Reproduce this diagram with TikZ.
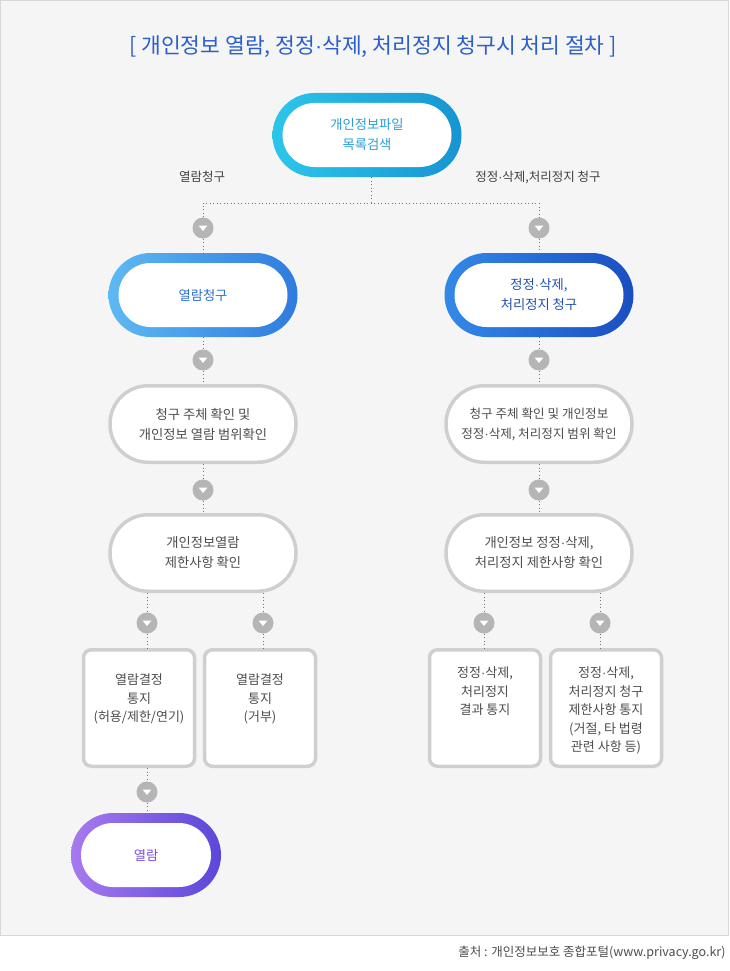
\documentclass[tikz,border=0pt]{standalone}
\usepackage{fontspec}
\setmainfont{Noto Sans CJK KR}
\newfontfamily\dotfont{Liberation Sans}
\newcommand{\md}{{\dotfont ·}}
\usepackage{xcolor}
\usetikzlibrary{positioning}

\definecolor{paper}{HTML}{F5F5F5}
\definecolor{frame}{HTML}{D8D8D8}
\definecolor{txt}{HTML}{4D4D4D}
\definecolor{mark}{HTML}{B5B5B5}
\definecolor{edge}{HTML}{CFCFCF}
\definecolor{titleblue}{HTML}{2B5FCC}
\definecolor{cyanA}{HTML}{2CC6EA}\definecolor{cyanB}{HTML}{1794D2}\definecolor{cyanT}{HTML}{2A9DD8}
\definecolor{skyA}{HTML}{5DB9F2}\definecolor{skyB}{HTML}{2F7BDF}\definecolor{skyT}{HTML}{2A6FD2}
\definecolor{navyA}{HTML}{3389E8}\definecolor{navyB}{HTML}{1A4EC2}\definecolor{navyT}{HTML}{2050AE}
\definecolor{violA}{HTML}{A77AEE}\definecolor{violB}{HTML}{5B47D8}\definecolor{violT}{HTML}{7A4FE4}

\tikzset{
	ring/.style 2 args={rectangle, rounded corners=42pt, minimum width=#1, minimum height=84pt, inner sep=0pt, align=center,
		left color=#2A, right color=#2B, text=#2T, font=\fontsize{13.3}{20}\selectfont,
		path picture={\fill[white, rounded corners=32pt] ([shift={(10pt,10pt)}]path picture bounding box.south west) rectangle ([shift={(-10pt,-10pt)}]path picture bounding box.north east);}},
	pill/.style={rectangle, draw=edge, line width=3.5pt, fill=white, rounded corners=38pt, minimum width=186pt, minimum height=76.5pt,
		align=center, text=txt, font=\fontsize{13.3}{20}\selectfont},
	card/.style={rectangle, draw=edge, line width=3.5pt, fill=white, rounded corners=8pt, minimum width=111pt, minimum height=116.5pt},
	cardtext/.style={anchor=north, align=center, text=txt, font=\fontsize{13}{18.5}\selectfont, inner sep=0pt},
	marker/.style={circle, fill=mark, minimum size=21pt, inner sep=0pt,
		path picture={\fill[white] ([shift={(-4.5pt,2.5pt)}]path picture bounding box.center) -- ++(9pt,0pt) -- ++(-4.5pt,-5.5pt) -- cycle;}},
	dots/.style={draw=black!55, line width=0.9pt, dash pattern=on 0.9pt off 2.6pt},
	side/.style={text=black!75, font=\fontsize{12.5}{15}\selectfont}
}

\begin{document}
\begin{tikzpicture}[x=1pt,y=-1pt]
	\useasboundingbox (0,0) rectangle (730,971);
	\fill[white] (0,0) rectangle (730,971);
	\draw[frame, fill=paper] (0.5,0.5) rectangle (728.5,935);

	\node[text=titleblue, font=\fontsize{21.5}{24}\selectfont] (title) at (373,47) {[ 개인정보 열람, 정정\md 삭제, 처리정지 청구시 처리 절차 ]};

	\node[ring={189pt}{cyan}] (list) at (367,135) {개인정보파일\\목록검색};
	\node[side] (lbl1) at (202,177) {열람청구};
	\node[side] (lbl2) at (538,177) {정정\md 삭제,처리정지 청구};

	% left column
	\node[marker] (m1) at (203,228) {};
	\node[ring={189pt}{sky}] (read) at (203,295) {열람청구};
	\node[marker] (m3) at (203,360) {};
	\node[pill] (chk1) at (203,424) {청구 주체 확인 및\\개인정보 열람 범위확인};
	\node[marker] (m5) at (203,490) {};
	\node[pill] (lim1) at (203,553) {개인정보열람\\제한사항 확인};
	\node[marker] (m7) at (147,623) {};
	\node[marker] (m8) at (263,623) {};
	\node[card] (c1) at (139,708) {};
	\node[card] (c2) at (260,708) {};
	\node[cardtext] (t1) at ([yshift=-26pt]c1.north) {열람결정\\통지\\(허용/제한/연기)};
	\node[cardtext] (t2) at ([yshift=-26pt]c2.north) {열람결정\\통지\\(거부)};
	\node[marker] (m11) at (147,792) {};
	\node[ring={150pt}{viol}] (open) at (146,855) {열람};

	% right column
	\node[marker] (m2) at (539,228) {};
	\node[ring={189pt}{navy}] (fix) at (539,295) {정정\md 삭제,\\처리정지 청구};
	\node[marker] (m4) at (539,360) {};
	\node[pill, font=\fontsize{12.6}{20}\selectfont] (chk2) at (539,424) {청구 주체 확인 및 개인정보\\정정\md 삭제, 처리정지 범위 확인};
	\node[marker] (m6) at (539,490) {};
	\node[pill] (lim2) at (539,553) {개인정보 정정\md 삭제,\\처리정지 제한사항 확인};
	\node[marker] (m9) at (484,623) {};
	\node[marker] (m10) at (600,623) {};
	\node[card] (c3) at (485,708) {};
	\node[card] (c4) at (606,708) {};
	\node[cardtext] (t3) at ([yshift=-19pt]c3.north) {정정\md 삭제,\\처리정지\\결과 통지};
	\node[cardtext] (t4) at ([yshift=-19pt]c4.north) {정정\md 삭제,\\처리정지 청구\\제한사항 통지\\(거절, 타 법령\\관련 사항 등)};

	\node[anchor=east, text=txt, font=\fontsize{12.5}{15}\selectfont] (src) at (729,953) {출처 : 개인정보보호 종합포털(www.privacy.go.kr)};

	\draw[dots] ([xshift=4pt]list.south) -- ++(0,26) coordinate (fork);
	\draw[dots] (m1) |- (fork) -| (m2);
	\draw[dots] (m1) -- (read) (read) -- (m3) (m3) -- (chk1) (chk1) -- (m5) (m5) -- (lim1);
	\draw[dots] (m2) -- (fix) (fix) -- (m4) (m4) -- (chk2) (chk2) -- (m6) (m6) -- (lim2);
	\draw[dots] (lim1.south -| m7) -- (m7) (m7) -- (c1.north -| m7);
	\draw[dots] (lim1.south -| m8) -- (m8) (m8) -- (c2.north -| m8);
	\draw[dots] (lim2.south -| m9) -- (m9) (m9) -- (c3.north -| m9);
	\draw[dots] (lim2.south -| m10) -- (m10) (m10) -- (c4.north -| m10);
	\draw[dots] (c1.south -| m11) -- (m11) (m11) -- (open.north -| m11);
\end{tikzpicture}
\end{document}
